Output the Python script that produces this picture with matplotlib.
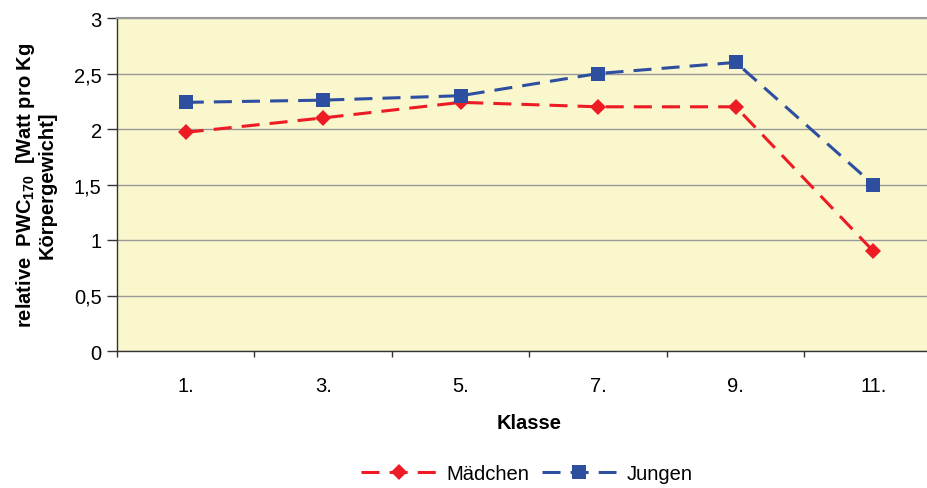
import matplotlib
matplotlib.use("Agg")
import matplotlib.pyplot as plt
import numpy as np

plt.rcParams['font.family'] = ['Liberation Sans', 'DejaVu Sans']
plt.rcParams['mathtext.fontset'] = 'custom'
plt.rcParams['mathtext.rm'] = 'Liberation Sans'
plt.rcParams['mathtext.bf'] = 'Liberation Sans:bold'

klassen = ["1.", "3.", "5.", "7.", "9.", "11."]
maedchen = [1.97, 2.10, 2.24, 2.20, 2.20, 0.90]
jungen = [2.24, 2.26, 2.30, 2.50, 2.60, 1.50]
y_ticks = [0, 0.5, 1, 1.5, 2, 2.5, 3]
y_tick_labels = ["0", "0,5", "1", "1,5", "2", "2,5", "3"]

fig = plt.figure(figsize=(9.28, 4.89), dpi=100)
W, H = 928, 489
left, right, top, bottom = 117, 942, 19, 352
ax = fig.add_axes([left / W, 1 - bottom / H, (right - left) / W, (bottom - top) / H])
ax.set_facecolor("#FAF7CD")

x = np.arange(len(klassen))
red = "#ED1C24"
blue = "#2E4E9F"
dash = (0, (5.9, 3.3))
ax.plot(x, maedchen, color=red, lw=2.2, linestyle=dash,
        marker="D", markersize=8, markeredgewidth=0, label="Mädchen", zorder=3)
ax.plot(x, jungen, color=blue, lw=2.2, linestyle=dash,
        marker="s", markersize=10.5, markeredgewidth=0, label="Jungen", zorder=3)

ax.set_xlim(-0.5, len(klassen) - 0.5)
ax.set_ylim(0, 3)
ax.set_yticks(y_ticks)
ax.set_yticklabels(y_tick_labels)
ax.yaxis.grid(True, color="#999999", lw=1.0)
ax.set_axisbelow(True)

ax.set_xticks(np.arange(len(klassen) + 1) - 0.5)
ax.set_xticklabels([])
ax.set_xticks(x, minor=True)
ax.set_xticklabels(klassen, minor=True)
ax.tick_params(axis="x", which="minor", length=0, pad=18, labelsize=14.5)
ax.tick_params(axis="x", which="major", length=4.5, width=1, color="#333333")
ax.tick_params(axis="y", length=7, width=1, color="#333333", labelsize=14.5, pad=4)

for s in ("left", "bottom"):
    ax.spines[s].set_color("#333333")
    ax.spines[s].set_linewidth(1.0)
ax.spines["top"].set_color("#999999")
ax.spines["top"].set_linewidth(1.5)
ax.spines["right"].set_visible(False)

ax.set_xlabel("Klasse", fontsize=14.5, fontweight="bold", labelpad=13)
fig.text(35 / W, 1 - 185 / H,
         "relative  $\\mathbf{PWC}_{\\mathbf{170}}$  [Watt pro Kg\nKörpergewicht]",
         rotation=90, ha="center", va="center", multialignment="center",
         fontsize=14.5, fontweight="bold", linespacing=1.05)

fig.legend(loc="center", bbox_to_anchor=(527 / W, 1 - 475 / H), ncol=2,
           frameon=False, fontsize=14.5, handlelength=3.7, columnspacing=0.65,
           handletextpad=0.5)

fig.savefig("out.png", dpi=100)
